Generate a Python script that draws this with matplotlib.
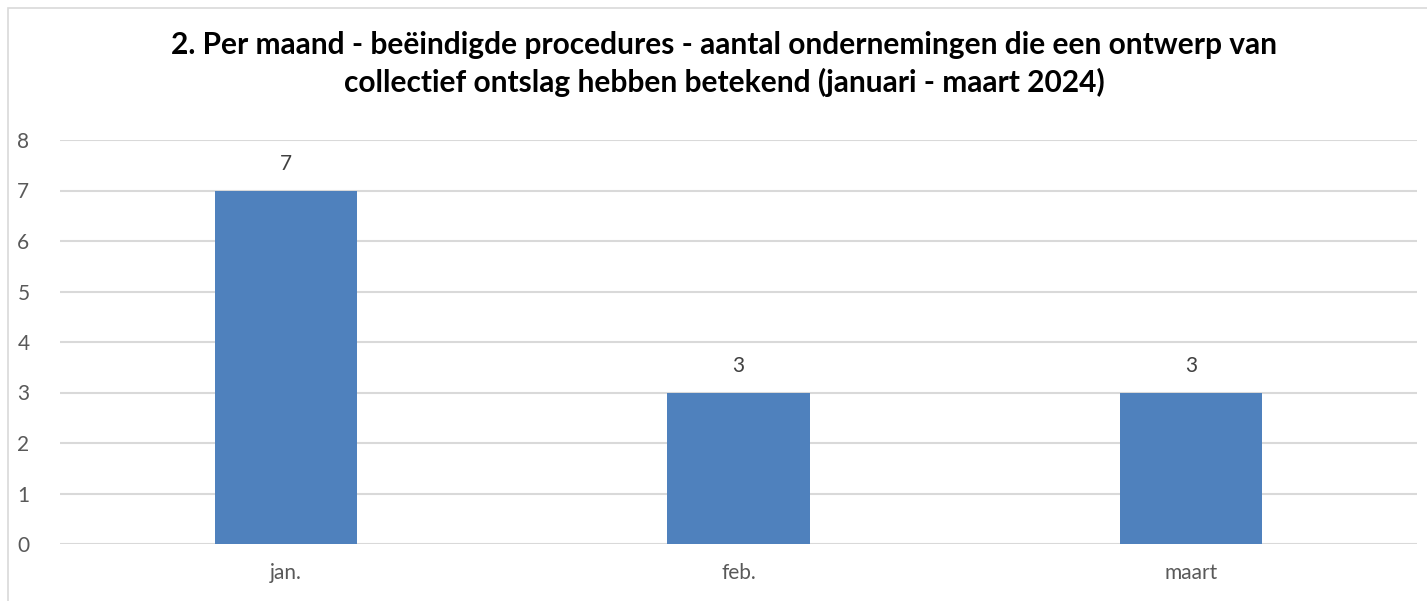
import matplotlib.pyplot as plt
from matplotlib.patches import Rectangle

# Data
months = ['jan.', 'feb.', 'maart']
counts = [7, 3, 3]
yticks = [0, 1, 2, 3, 4, 5, 6, 7, 8]

title = ('2. Per maand - beëindigde procedures - aantal ondernemingen die een ontwerp van\n'
         'collectief ontslag hebben betekend (januari - maart 2024)')

W, H = 1427, 601
fig = plt.figure(figsize=(W / 100, H / 100), dpi=100)
plt.rcParams['font.family'] = ['Lato', 'DejaVu Sans']

# chart frame (only left and top edges visible)
fig.patches.append(Rectangle((8 / W, -0.1), 1.2, 1 - 8 / H + 0.1, transform=fig.transFigure,
                             fill=False, edgecolor='#d9d9d9', linewidth=1.2))

ax = fig.add_axes([60 / W, 1 - 544 / H, (1417 - 60) / W, (544 - 140) / H])

x = range(len(months))
bars = ax.bar(x, counts, width=142 / 452, color='#4f81bd', zorder=3)
ax.bar_label(bars, padding=12, fontsize=15, color='#404040')

ax.set_xlim(-0.5, len(months) - 0.5)
ax.set_ylim(0, 8)
ax.set_yticks(yticks)
ax.set_xticks(list(x))
ax.set_xticklabels(months)
ax.tick_params(axis='both', length=0, labelsize=15, labelcolor='#595959')
ax.tick_params(axis='x', pad=14)
ax.tick_params(axis='y', pad=22)
ax.grid(axis='y', color='#d9d9d9', linewidth=1.5, zorder=0)
for s in ax.spines.values():
    s.set_visible(False)

fig.text(0.5 * (170 + 1278) / W, 1 - 64 / H, title, ha='center', va='center',
         fontsize=21.5, fontweight='bold', color='black', linespacing=1.35)

fig.savefig('out.png', dpi=100)
